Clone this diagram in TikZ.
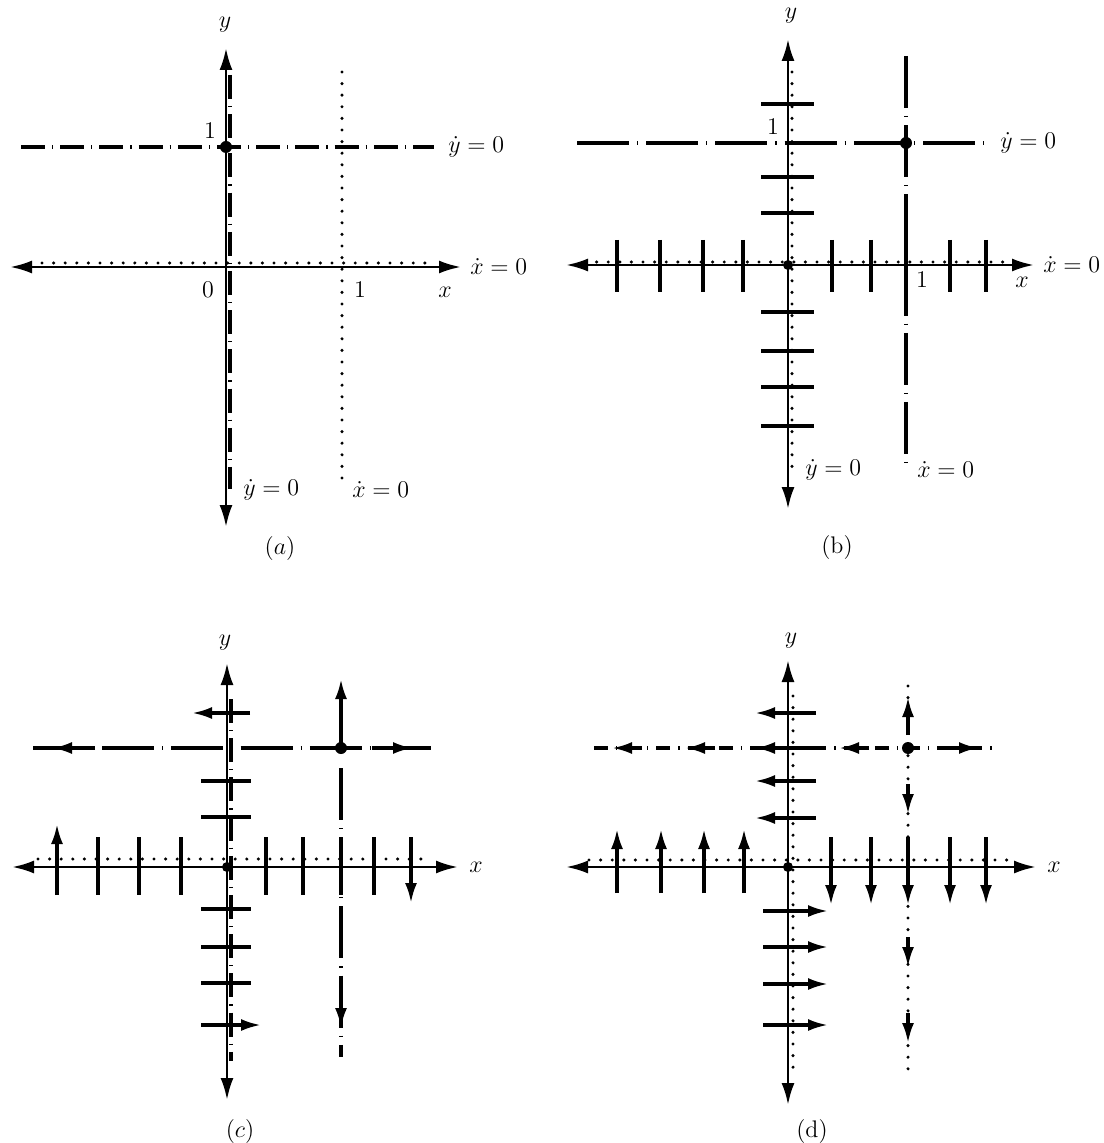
\documentclass[tikz,border=0pt]{standalone}
\usepackage{amsmath}
\usetikzlibrary{arrows.meta}

\begin{document}
\begin{tikzpicture}[
  x=0.5pt, y=-0.5pt,
  font=\fontsize{12}{14}\selectfont,
  axis/.style={line width=1.4pt, {Latex[length=11pt,width=6.5pt]}-{Latex[length=11pt,width=6.5pt]}},
  tck/.style={line width=1.6pt},
  vec/.style={line width=1.6pt, -{Latex[length=10pt,width=6pt]}},
  dots/.style={line width=1.7pt, line cap=round, dash pattern=on 0pt off 5.8pt},
  dda/.style={line width=2pt, dash pattern=on 12pt off 3.5pt on 0.6pt off 3.5pt},
  ddb/.style={line width=2pt, dash pattern=on 26pt off 4pt on 0.6pt off 4pt},
  ddd/.style={line width=2pt, dash pattern=on 7pt off 4pt on 0.6pt off 4pt},
  lbl/.style={anchor=west, inner sep=0pt},
  fix/.style={circle, fill, inner sep=0pt, minimum size=6pt}
]
\useasboundingbox (0,0) rectangle (1103,1143);

% (a)
\draw[axis] (10,267) -- (461,267);
\draw[axis] (226,527) -- (226,48);
\draw[dots] (42,263) -- (436,263);
\draw[dots] (342,72) -- (342,486);
\draw[dda] (21,147) -- (434,147);
\draw[dda] (230,75) -- (230,489);
\node[fix] (a-p) at (226,147) {};
\node (a-y) at (225,25) {$y$};
\node (a-one) at (210,131) {1};
\node (a-zero) at (208,290) {0};
\node (a-onex) at (360,290) {1};
\node (a-x) at (445,292) {$x$};
\node[lbl] (a-ydot) at (448,147) {$\dot y = 0$};
\node[lbl] (a-xdot) at (470,267) {$\dot x = 0$};
\node[lbl] (a-ydotb) at (243,490) {$\dot y = 0$};
\node[lbl] (a-xdotb) at (352,490) {$\dot x = 0$};
\node (a-cap) at (280,548) {$(a)$};

% (b)
\draw[axis] (566,265) -- (1034,265);
\draw[axis] (788,509) -- (788,39);
\draw[dots] (585,262) -- (1006,262);
\draw[dots] (792,72) -- (792,470);
\draw[ddb] (577,143) -- (990,143);
\draw[ddb] (906,56) -- (906,470);
\foreach \t in {617,660,703,743,832,871,906,950,986}
  \draw[tck] (\t,240) -- (\t,292);
\foreach \t in {104,177,213,312,351,387,426}
  \draw[tck] (761,\t) -- (814,\t);
\node[fix] (b-p) at (906,143) {};
\node[fix, minimum size=5pt] (b-o) at (788,265) {};
\node (b-y) at (791,16) {$y$};
\node (b-one) at (773,127) {1};
\node (b-onex) at (922,280) {1};
\node (b-x) at (1022,282) {$x$};
\node[lbl] (b-ydot) at (1000,143) {$\dot y = 0$};
\node[lbl] (b-xdot) at (1043,265) {$\dot x = 0$};
\node[lbl] (b-ydotb) at (805,470) {$\dot y = 0$};
\node[lbl] (b-xdotb) at (917,470) {$\dot x = 0$};
\node (b-cap) at (837,548) {(b)};

% (c)
\draw[axis] (12,867) -- (458,867);
\draw[axis] (227,1100) -- (227,663);
\draw[dots] (38,859) -- (429,859);
\draw[dda] (231,699) -- (231,1061);
\draw[ddb] (33,748) -- (434,748);
\draw[ddb] (341,768) -- (341,1057);
\draw[vec] (95,748) -- (52,748);
\draw[vec] (372,748) -- (413,748);
\draw[vec] (341,748) -- (341,679);
\draw[vec] (341,995) -- (341,1028);
\foreach \t in {781,817,909,947,983}
  \draw[tck] (201,\t) -- (251,\t);
\draw[vec] (250,713) -- (192,713);
\draw[vec] (201,1025) -- (261,1025);
\foreach \t in {98,139,181,266,303,341,374}
  \draw[tck] (\t,837) -- (\t,895);
\draw[vec] (57,895) -- (57,824);
\draw[vec] (411,837) -- (411,903);
\node[fix] (c-p) at (341,748) {};
\node[fix, minimum size=5pt] (c-o) at (227,867) {};
\node (c-y) at (225,643) {$y$};
\node (c-x) at (476,867) {$x$};
\node (c-cap) at (240,1131) {$(c)$};

% (d)
\draw[axis] (566,867) -- (1036,867);
\draw[axis] (788,1105) -- (788,660);
\draw[dots] (589,860) -- (1007,860);
\draw[dots] (793,696) -- (793,1071);
\draw[ddd] (594,748) -- (997,748);
\draw[dots] (908,686) -- (908,1071);
\foreach \t in {612,685,839}
  \draw[vec] (\t+30,748) -- (\t,748);
\draw[vec] (950,748) -- (979,748);
\draw[vec] (908,735) -- (908,697);
\foreach \t in {814,967,1043}
  \draw[vec] (908,\t-30) -- (908,\t);
\foreach \t in {713,748,781,818}
  \draw[vec] (816,\t) -- (755,\t);
\foreach \t in {911,947,984,1025}
  \draw[vec] (763,\t) -- (828,\t);
\foreach \t in {617,661,704,744}
  \draw[vec] (\t,893) -- (\t,829);
\foreach \t in {831,871,908,950,986}
  \draw[vec] (\t,837) -- (\t,905);
\node[fix] (d-p) at (908,748) {};
\node[fix, minimum size=5pt] (d-o) at (788,867) {};
\node (d-y) at (791,641) {$y$};
\node (d-x) at (1054,867) {$x$};
\node (d-cap) at (812,1131) {(d)};
\end{tikzpicture}
\end{document}
